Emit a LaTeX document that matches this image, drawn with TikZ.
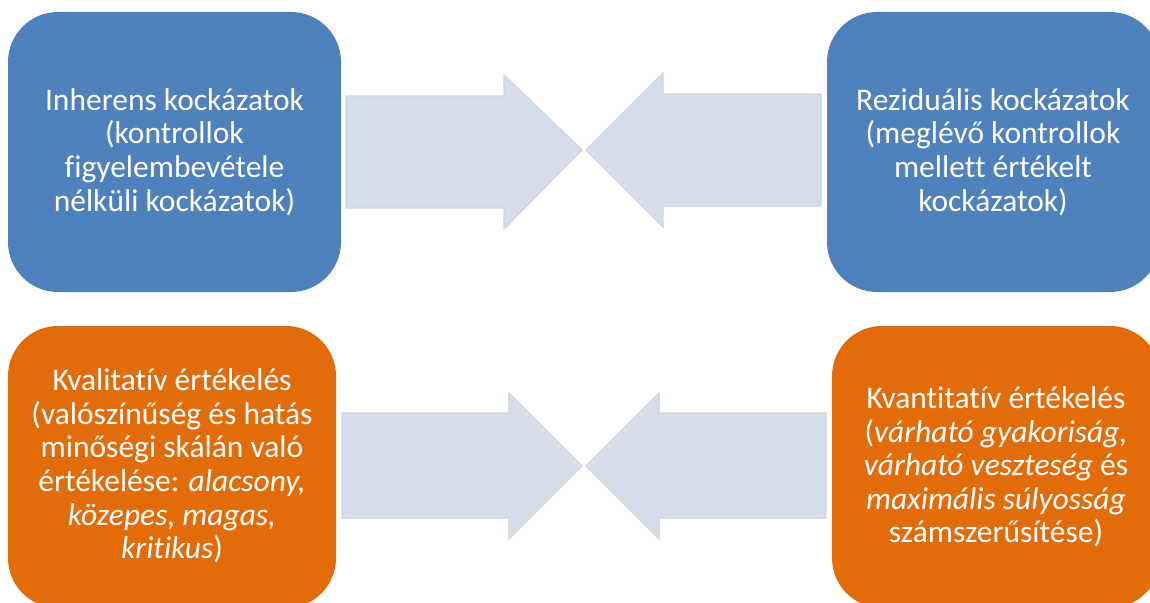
\documentclass[tikz,border=0pt]{standalone}
\usepackage{fontspec}
\setmainfont{Carlito}[Ligatures={NoCommon}]
\definecolor{boxblue}{HTML}{4F81BD}
\definecolor{boxorange}{HTML}{E36C0A}
\definecolor{arrowfill}{HTML}{D5DCEA}
\definecolor{arrowedge}{HTML}{CDD5E6}
\begin{document}
\begin{tikzpicture}[x=1pt,y=-1pt,
  riskbox/.style={rounded corners=50pt},
  boxtext/.style={text=white,align=center,font=\fontsize{31.5}{33.6}\selectfont,inner sep=0pt},
  blockarrow/.style={fill=arrowfill,draw=arrowedge,line width=1.2pt,line join=miter}]
\useasboundingbox (0,0) rectangle (1150,602);
\clip (0,0) rectangle (1150,602);
% risk boxes
\fill[boxblue,riskbox] (8,12) rectangle (341,292);
\fill[boxblue,riskbox] (827,12) rectangle (1160,292);
\fill[boxorange,riskbox] (8,326) rectangle (336,608);
\fill[boxorange,riskbox] (832,326) rectangle (1160,608);
% block arrows pointing to the middle
\draw[blockarrow] (346,96) -- (504,96) -- (504,75) -- (582,150) -- (504,229) -- (504,208) -- (346,208) -- cycle;
\draw[blockarrow] (821,94) -- (663,94) -- (663,73) -- (586,150) -- (663,227) -- (663,206) -- (821,206) -- cycle;
\draw[blockarrow] (342,413) -- (509,413) -- (509,393) -- (582,466) -- (509,539) -- (509,518) -- (342,518) -- cycle;
\draw[blockarrow] (826,413) -- (659,413) -- (659,393) -- (586,466) -- (659,539) -- (659,518) -- (826,518) -- cycle;
% labels
\node[boxtext] (inh) at (174.5,152) {Inherens kockázatok\\(kontrollok\\figyelembevétele\\nélküli kockázatok)};
\node[boxtext] (rez) at (993,152) {Reziduális kockázatok\\(meglévő kontrollok\\mellett értékelt\\kockázatok)};
\node[boxtext] (kval) at (172,466) {Kvalitatív értékelés\\(valószínűség és hatás\\minőségi skálán való\\értékelése: \textit{alacsony,}\\\textit{közepes, magas,}\\\textit{kritikus})};
\node[boxtext] (kvant) at (996,467) {Kvantitatív értékelés\\(\textit{várható gyakoriság,}\\\textit{várható veszteség} és\\\textit{maximális súlyosság}\\számszerűsítése)};
\end{tikzpicture}
\end{document}
